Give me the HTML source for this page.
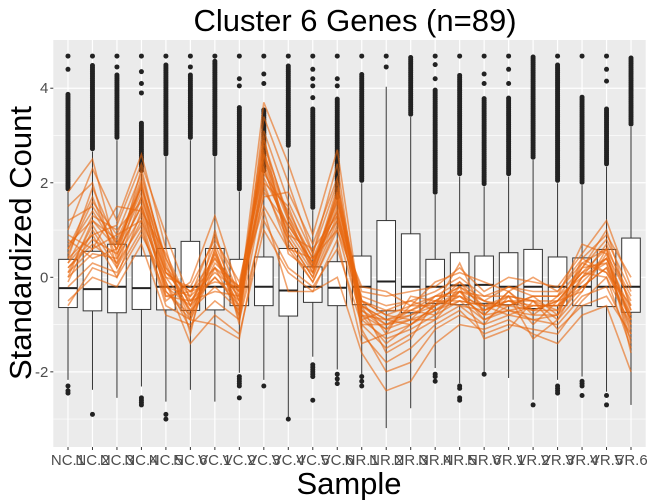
<!DOCTYPE html>
<html><head><meta charset="utf-8"><style>
body{margin:0;background:#fff;}
svg{display:block;font-family:"Liberation Sans",sans-serif;}
</style></head><body>
<svg id="chart" width="650" height="500" viewBox="0 0 650 500">
<text x="355" y="31" font-size="31" text-anchor="middle" fill="#000">Cluster 6 Genes (n=89)</text>
<text transform="translate(31,243) rotate(-90)" font-size="31" text-anchor="middle" fill="#000">Standardized Count</text>
<text x="349" y="494" font-size="31" text-anchor="middle" fill="#000">Sample</text>
<g id="plot"></g>
</svg>
<script>
const categories=["NC.1","NC.2","NC.3","NC.4","NC.5","NC.6","VC.1","VC.2","VC.3","VC.4","VC.5","VC.6","NR.1","NR.2","NR.3","NR.4","NR.5","NR.6","VR.1","VR.2","VR.3","VR.4","VR.5","VR.6"];
const q1=[-0.64,-0.71,-0.75,-0.68,-0.69,-0.7,-0.69,-0.6,-0.6,-0.82,-0.53,-0.6,-0.58,-0.71,-0.75,-0.55,-0.58,-0.55,-0.58,-0.66,-0.6,-0.6,-0.62,-0.74];
const med=[-0.23,-0.25,-0.2,-0.23,-0.2,-0.2,-0.2,-0.2,-0.2,-0.28,-0.2,-0.22,-0.2,-0.09,-0.2,-0.2,-0.17,-0.16,-0.2,-0.2,-0.2,-0.2,-0.2,-0.2];
const q3=[0.38,0.55,0.7,0.45,0.61,0.76,0.61,0.38,0.43,0.61,0.22,0.33,0.45,1.2,0.92,0.38,0.52,0.45,0.52,0.59,0.43,0.41,0.59,0.83];
const whiskLo=[-2.17,-2.38,-2.55,-2.31,-2.63,-2.38,-2.63,-2.02,-2.17,-2.95,-1.68,-1.95,-2.1,-3.19,-2.77,-1.92,-2.24,-2.0,-2.13,-2.59,-2.17,-2.1,-2.42,-2.7];
const whiskHi=[1.81,2.66,2.9,2.2,2.55,2.9,2.55,1.81,2.2,2.73,1.42,1.63,1.99,4.03,3.39,1.74,2.13,1.92,2.13,2.48,1.99,1.95,2.34,3.18];
const denseTop=[3.9,4.5,4.3,3.3,4.5,4.3,4.6,3.6,3.55,4.5,3.6,3.8,4.3,4.0,4.68,4.0,4.3,3.8,3.8,4.68,4.5,3.85,3.6,4.68];
const sparseHi=[[4.4,4.68],[4.68],[4.45,4.68],[3.9,4.1,4.35,4.68],[4.68],[4.45,4.68],[4.68],[4.05,4.2,4.68],[4.1,4.3,4.68],[4.68],[3.8,4.05,4.2,4.4,4.68],[4.05,4.2,4.68],[4.68],[4.45,4.68],[],[4.2,4.5,4.68],[4.68],[4.1,4.3,4.68],[4.1,4.4,4.68],[],[4.68],[4.68],[4.15,4.4,4.68],[]];
const lowOut=[[-2.3,-2.4,-2.45],[-2.9],[],[-2.55,-2.6,-2.65,-2.7],[-2.9,-3.0],[],[],[-2.1,-2.15,-2.2,-2.25,-2.3,-2.55],[-2.3],[-3.0],[-1.85,-1.9,-1.95,-2.0,-2.05,-2.1,-2.6],[-2.05,-2.15,-2.25],[-2.1,-2.2,-2.3],[],[],[-2.05,-2.1,-2.2],[-2.3,-2.35,-2.55,-2.6],[-2.05],[],[-2.7],[-2.3,-2.35,-2.4,-2.45],[-2.2,-2.25,-2.3,-2.5],[-2.5,-2.7],[]];
const profiles=[
[0.2,0.8,0.5,1.5,0.1,-0.5,0.2,-0.4,2.1,1.1,0.3,1.4,-0.6,-0.9,-0.7,-0.5,-0.2,-0.6,-0.4,-0.5,-0.5,0.1,0.4,-0.7],
[0.5,1.6,0.9,2.2,0.3,-0.9,0.6,-0.7,2.8,1.3,0.1,1.8,-0.9,-1.3,-1.1,-0.8,-0.5,-0.9,-0.7,-0.9,-0.8,-0.2,0.2,-1.1],
[-0.2,0.3,0.1,1.0,-0.4,-0.3,-0.1,-0.2,1.5,0.6,0.4,1.0,-0.4,-0.6,-0.5,-0.3,0.0,-0.4,-0.2,-0.3,-0.3,0.3,0.6,-0.4],
[1.0,2.3,1.2,2.6,0.6,-1.2,1.0,-1.0,3.4,2.0,0.5,2.4,-1.2,-1.8,-1.5,-1.0,-0.7,-1.2,-1.0,-1.1,-1.2,-0.5,0.0,-1.5],
[0.0,0.5,0.4,1.3,-0.2,-0.4,0.1,-0.3,1.9,0.8,0.0,1.2,-0.5,-0.8,-0.6,-0.4,-0.1,-0.5,-0.6,-0.4,-0.4,0.2,0.8,-0.3],
[0.7,1.2,0.8,1.9,0.2,-0.7,0.4,-0.6,2.5,1.2,0.3,1.7,-0.8,-1.1,-0.9,-0.7,-0.4,-0.8,-0.3,-0.7,-0.7,0.0,0.3,-0.9],
[-0.5,0.0,-0.2,0.7,-0.8,-1.0,-0.5,-0.9,1.2,0.2,-0.2,0.6,-1.0,-1.5,-1.2,-0.9,-0.6,-1.0,-0.8,-0.9,-1.0,-0.4,-0.2,-1.3],
[0.4,1.9,0.7,1.8,0.0,-0.2,0.8,-0.1,2.3,0.9,0.6,1.3,-0.3,-0.4,-0.3,-0.2,0.2,-0.3,0.0,-0.1,-0.2,0.5,1.2,-0.2],
[0.9,0.6,1.5,1.4,0.5,-0.6,0.0,-0.5,2.0,1.5,0.2,1.9,-0.7,-1.0,-0.8,-0.6,-0.3,-0.7,-0.5,-0.6,-0.6,-0.1,0.4,-0.8],
[0.1,1.1,0.3,2.0,-0.3,-0.8,0.5,-0.8,3.0,0.5,0.1,1.5,-0.6,-0.9,-1.0,-0.7,-0.5,-0.6,-0.6,-0.7,-0.5,0.1,0.0,-1.0],
[1.5,2.0,0.2,1.2,-0.5,-0.1,1.3,-0.3,2.6,0.7,-0.1,1.1,-0.2,-0.3,-0.6,-0.1,0.1,-0.1,-0.3,0.0,-0.3,0.4,0.9,0.0],
[0.3,0.9,1.1,2.4,0.9,-0.5,-0.3,-0.4,1.7,1.8,0.7,2.1,-1.1,-2.0,-1.8,-1.1,-0.8,-1.0,-0.4,-1.3,-0.9,-0.3,0.6,-1.6],
[-0.6,0.2,0.0,0.9,-0.1,-1.4,-0.8,-1.2,1.0,0.1,-0.3,0.8,-1.4,-1.2,-0.4,-0.5,-0.2,-1.3,-1.1,-0.5,-1.1,-0.6,-0.4,-1.2],
[0.6,1.4,0.6,1.7,0.1,-0.3,0.2,-0.2,2.4,1.0,0.2,1.6,-0.5,-0.7,-0.7,-0.4,-0.3,-0.5,-0.2,-0.4,-0.4,0.7,0.5,-0.5],
[1.8,2.5,0.5,1.5,-0.2,-0.6,0.7,-0.5,3.7,2.4,0.9,2.7,-0.8,-1.4,-1.0,-0.6,0.3,-0.8,-0.7,-0.8,-0.8,0.2,1.0,-0.7],
[0.2,0.7,0.3,1.1,-0.6,-0.9,-1.0,-1.3,1.4,-0.3,-0.3,0.0,-1.6,-2.4,-2.2,-1.4,-1.0,-1.1,-0.9,-1.2,-1.4,-0.8,-0.6,-2.0],
[0.3,1.3,1.0,1.6,-0.4,-0.5,0.0,-0.6,2.2,1.4,0.4,1.2,-0.7,-1.1,-0.6,-0.6,-0.4,-0.6,-0.5,-0.5,-0.7,0.3,0.1,-0.9],
[0.8,0.4,0.6,2.1,0.4,-0.8,0.3,-0.2,2.7,0.8,0.0,1.7,-0.5,-0.8,-0.9,-0.4,-0.4,-0.8,-0.3,-0.8,-0.4,0.0,0.7,-0.6],
[-0.1,1.0,0.2,1.7,-0.1,-1.1,0.6,-0.9,1.8,1.1,0.3,1.4,-1.0,-1.0,-0.7,-0.8,-0.2,-0.5,-0.7,-0.6,-0.6,0.2,0.3,-1.2],
[0.6,1.7,0.4,2.3,0.2,-0.4,0.9,-0.4,3.1,1.6,0.5,2.0,-0.6,-1.6,-1.3,-0.5,-0.6,-0.7,-0.4,-1.0,-0.5,-0.3,0.5,-1.4],
[0.1,0.6,0.9,1.2,0.0,-0.7,-0.2,-0.7,2.0,0.6,-0.1,1.0,-0.9,-0.7,-0.5,-0.7,-0.3,-0.9,-0.6,-0.4,-0.8,0.4,0.1,-0.6],
[1.2,1.5,0.7,1.9,0.4,-0.6,0.5,-0.5,2.9,1.2,0.2,1.8,-0.5,-1.2,-1.0,-0.6,-0.1,-0.7,-0.5,-0.7,-0.5,0.1,0.6,-1.0],
[0.4,0.9,0.0,1.4,-0.3,-0.9,0.2,-0.8,2.3,0.9,0.1,1.3,-0.8,-0.9,-0.8,-0.5,-0.5,-0.6,-0.8,-0.6,-0.6,-0.2,0.2,-0.8],
[0.0,1.2,0.6,2.0,0.1,-0.3,0.4,-0.3,2.6,1.3,0.4,1.6,-0.6,-1.0,-0.9,-0.9,-0.3,-0.4,-0.4,-0.5,-0.9,0.0,0.4,-0.9]
];
const yTicks=[-2,0,2,4];
const yMinor=[-3,-1,1,3];

const NS="http://www.w3.org/2000/svg";
const L=53.3,R=645.7,T=40,B=447;
const yMin=-3.59,yMax=5.02;
const n=categories.length;
const step=(R-L)/(n+0.2);
function xs(i){return L+step*(0.6+i);}
function ys(v){return B-(v-yMin)/(yMax-yMin)*(B-T);}
const g=document.getElementById('plot');
function mk(tag,attrs,parent){const e=document.createElementNS(NS,tag);for(const k in attrs)e.setAttribute(k,attrs[k]);(parent||g).appendChild(e);return e;}

const bg=mk('rect',{x:L,y:T,width:R-L,height:B-T,fill:'#ebebeb'});


yMinor.forEach(v=>{const l=mk('line',{x1:L,x2:R,y1:ys(v),y2:ys(v),stroke:'#fff','stroke-width':0.6});

});
yTicks.forEach(v=>{const l=mk('line',{x1:L,x2:R,y1:ys(v),y2:ys(v),stroke:'#fff','stroke-width':1.2});


const t=mk('line',{x1:L-3,x2:L,y1:ys(v),y2:ys(v),stroke:'#333','stroke-width':1});


const tx=mk('text',{x:L-5,y:ys(v)+5,'font-size':15,'text-anchor':'end',fill:'#4d4d4d'});tx.textContent=v;

});
categories.forEach((c,i)=>{const x=xs(i);
const l=mk('line',{x1:x,x2:x,y1:T,y2:B,stroke:'#fff','stroke-width':1.2});


const t=mk('line',{x1:x,x2:x,y1:B,y2:B+3,stroke:'#333','stroke-width':1});


const tx=mk('text',{x:x,y:B+18,'font-size':15,'text-anchor':'middle',fill:'#4d4d4d'});tx.textContent=c;

});

categories.forEach((c,i)=>{const x=xs(i),hw=9.3;
const bx=mk('g',{});


mk('line',{x1:x,x2:x,y1:ys(whiskHi[i]),y2:ys(q3[i]),stroke:'#333','stroke-width':1},bx);
mk('line',{x1:x,x2:x,y1:ys(q1[i]),y2:ys(whiskLo[i]),stroke:'#333','stroke-width':1},bx);
mk('rect',{x:x-hw,y:ys(q3[i]),width:2*hw,height:ys(q1[i])-ys(q3[i]),fill:'#fff',stroke:'#333','stroke-width':1},bx);
mk('line',{x1:x-hw,x2:x+hw,y1:ys(med[i]),y2:ys(med[i]),stroke:'#222','stroke-width':2},bx);
for(let v=whiskHi[i]+0.06;v<=denseTop[i];v+=0.04){mk('circle',{cx:x,cy:ys(v),r:2.5,fill:'#222'},bx);}
sparseHi[i].forEach(v=>mk('circle',{cx:x,cy:ys(v),r:2.5,fill:'#222'},bx));
lowOut[i].forEach(v=>mk('circle',{cx:x,cy:ys(v),r:2.5,fill:'#222'},bx));
});

const lg=mk('g',{});


profiles.forEach(p=>{const d=p.map((v,i)=>(i?'L':'M')+xs(i).toFixed(1)+','+ys(v).toFixed(1)).join('');
const pl=mk('path',{d:d,fill:'none',stroke:'#e8670f','stroke-width':1.6,'stroke-opacity':0.6},lg);

});
</script>
</body></html>
